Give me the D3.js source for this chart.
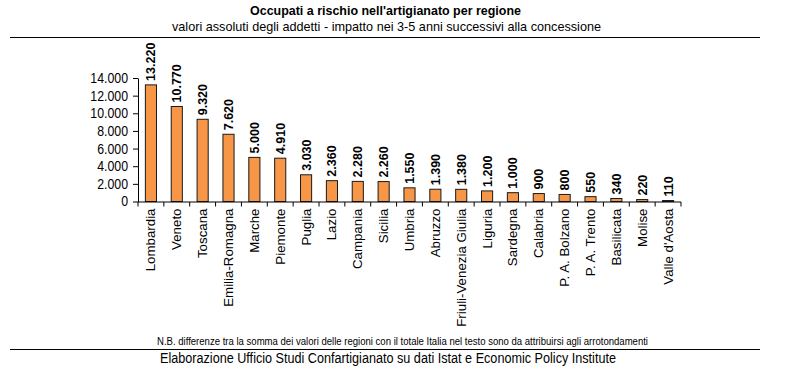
<!DOCTYPE html>
<html>
<head>
<meta charset="utf-8">
<script src="https://cdn.jsdelivr.net/npm/d3@7"></script>
<style>
  html, body { margin: 0; padding: 0; background: #fff; }
  svg { display: block; }
  .narrow { font-family: "Liberation Sans Narrow", "Arial Narrow", "Liberation Sans", Arial, sans-serif; }
  .arial { font-family: "Liberation Sans", Arial, sans-serif; }
</style>
</head>
<body>
<svg id="chart" width="788" height="371"></svg>
<script>
const title = "Occupati a rischio nell'artigianato per regione";
const subtitle = "valori assoluti degli addetti - impatto nei 3-5 anni successivi alla concessione";
const footnote = "N.B. differenze tra la somma dei valori delle regioni con il totale Italia nel testo sono da attribuirsi agli arrotondamenti";
const source = "Elaborazione Ufficio Studi Confartigianato su dati Istat e Economic Policy Institute";

const categories = ["Lombardia","Veneto","Toscana","Emilia-Romagna","Marche","Piemonte","Puglia","Lazio",
  "Campania","Sicilia","Umbria","Abruzzo","Friuli-Venezia Giulia","Liguria","Sardegna","Calabria",
  "P. A. Bolzano","P. A. Trento","Basilicata","Molise","Valle d'Aosta"];
const values = [13220,10770,9320,7620,5000,4910,3030,2360,2280,2260,1550,1390,1380,1200,1000,900,800,550,340,220,110];
const yTicks = [0,2000,4000,6000,8000,10000,12000,14000];

const svg = d3.select("#chart");
const fmt = v => d3.format(",")(v).replace(/,/g, ".");

function narrowText(str, cx, yb, size, width, bold) {
  return svg.append("text").attr("class","narrow")
    .attr("x",cx).attr("y",yb).attr("text-anchor","middle")
    .attr("font-size",size).attr("font-weight",bold ? "bold" : "normal")
    .attr("fill","#000")
    .attr("textLength",width).attr("lengthAdjust","spacingAndGlyphs")
    .text(str);
}

// header
narrowText(title, 385.5, 15, 13.5, 271, true);
narrowText(subtitle, 386.5, 31, 13.5, 429, false);
svg.append("line").attr("x1",10).attr("x2",760).attr("y1",37.5).attr("y2",37.5).attr("stroke","#000").attr("stroke-width",1.2);

// scales
const x = d3.scaleBand().domain(categories).range([138, 681]).paddingInner(0.57).paddingOuter(0.285);
const y = d3.scaleLinear().domain([0, 14000]).range([201.5, 78]);

// y axis
const yAxis = svg.append("g").attr("transform","translate(138,0)")
  .call(d3.axisLeft(y).tickValues(yTicks).tickFormat(fmt).tickSize(5).tickSizeOuter(0).tickPadding(0));
yAxis.selectAll("text").attr("class","narrow").attr("font-size",14).attr("fill","#000")
  .attr("x",null)
  .attr("transform","translate(-10,0) scale(0.88,1)");
yAxis.selectAll("line,path").attr("stroke","#000");

// bars
svg.append("g").selectAll("rect").data(values).join("rect")
  .attr("x",(d,i)=>x(categories[i]))
  .attr("y",d=>y(d))
  .attr("width",x.bandwidth())
  .attr("height",d=>y(0)-y(d))
  .attr("fill","#F79646")
  .attr("stroke","#1a1a1a")
  .attr("stroke-width",1);

// x axis: baseline + boundary ticks
const x0 = x.range()[0], step = x.step();
svg.append("line").attr("x1",x0).attr("x2",x0+step*categories.length)
  .attr("y1",y(0)+0.5).attr("y2",y(0)+0.5).attr("stroke","#000");
svg.append("g").selectAll("line").data(d3.range(categories.length+1)).join("line")
  .attr("x1",i=>x0+i*step).attr("x2",i=>x0+i*step)
  .attr("y1",y(0)+0.5).attr("y2",y(0)+5).attr("stroke","#000");

// category labels
const xAxis = svg.append("g").attr("transform",`translate(0,${y(0)})`)
  .call(d3.axisBottom(x).tickSize(0).tickPadding(0));
xAxis.select(".domain").remove();
xAxis.selectAll("text")
  .attr("class","arial")
  .attr("font-size",13.3)
  .attr("fill","#000")
  .attr("text-anchor","end")
  .attr("dy",null)
  .attr("y",null)
  .attr("transform","translate(4.5,7) rotate(-90)");

// value labels
svg.append("g").selectAll("text").data(values).join("text")
  .attr("class","arial")
  .attr("font-size",12.5)
  .attr("font-weight","bold")
  .attr("fill","#000")
  .attr("text-anchor","start")
  .attr("transform",(d,i)=>`translate(${x(categories[i])+x.bandwidth()/2+4.5},${y(d)-4}) rotate(-90)`)
  .text(d=>fmt(d));

// footer
narrowText(footnote, 402.5, 345, 10, 491, false);
svg.append("line").attr("x1",10).attr("x2",760).attr("y1",349.5).attr("y2",349.5).attr("stroke","#000").attr("stroke-width",1.2);
narrowText(source, 388, 362.5, 14, 456, false);
</script>
</body>
</html>
